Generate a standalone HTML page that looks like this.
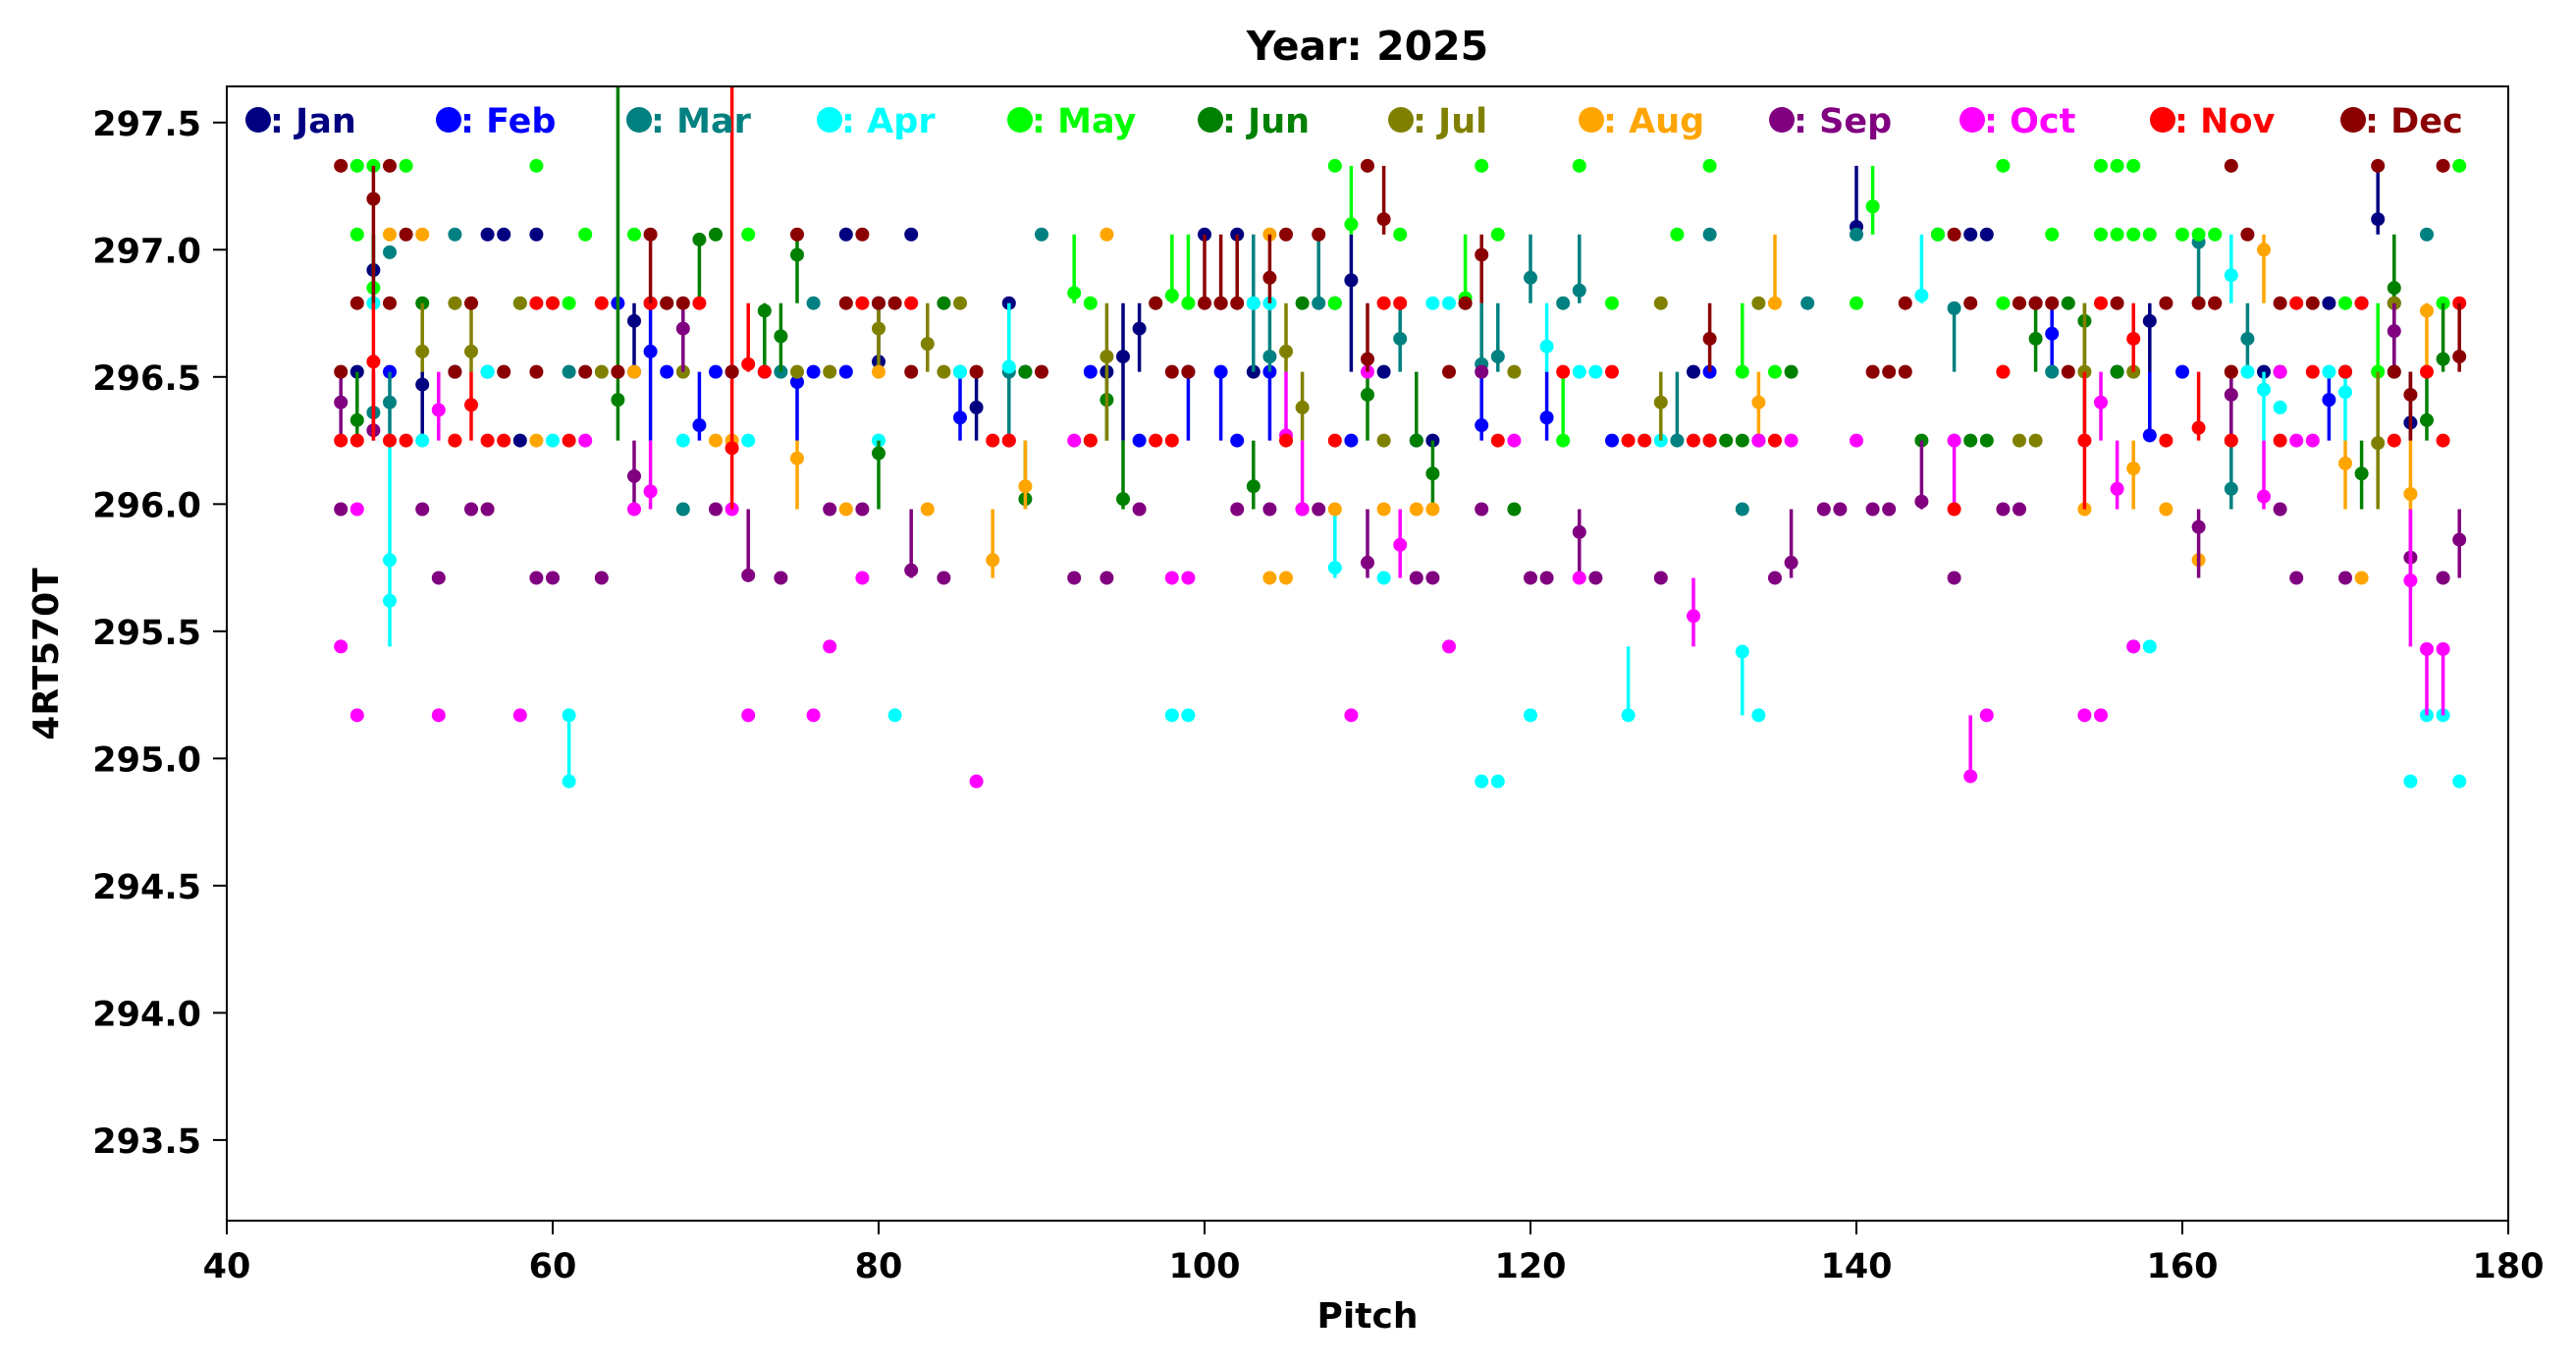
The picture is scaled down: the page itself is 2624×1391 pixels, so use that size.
<!DOCTYPE html>
<html><head><meta charset="utf-8"><style>
html,body{margin:0;padding:0;background:#fff;}
svg{display:block;font-family:"DejaVu Sans","Liberation Sans",sans-serif;font-weight:bold;}
</style></head><body>
<svg id="chart" width="2624" height="1391" viewBox="0 0 2624 1391" xmlns="http://www.w3.org/2000/svg">
<rect width="2624" height="1391" fill="#fff"/>
<text x="1393" y="61" font-size="41" text-anchor="middle">Year: 2025</text>
<text x="1393" y="1352" font-size="36" text-anchor="middle">Pitch</text>
<text x="0" y="0" font-size="36" text-anchor="middle" transform="translate(59,666) rotate(-90)">4RT570T</text>
<g id="marks"></g>
<g id="axes"></g>
<g id="legend"></g>
</svg>
<script>
const monthNames = ["Jan","Feb","Mar","Apr","May","Jun","Jul","Aug","Sep","Oct","Nov","Dec"];
const monthColors = ["#000080","#0000ff","#008080","#00ffff","#00ff00","#008000","#808000","#ffa500","#800080","#ff00ff","#ff0000","#8b0000"];
const xTicks = [40,60,80,100,120,140,160,180];
const yTicks = [293.5,294.0,294.5,295.0,295.5,296.0,296.5,297.0,297.5];
// [pitch, mean, low, high]
const janPts = [[48,296.52],[49,296.92,296.79,297.06],[52,296.47,296.25,296.52],[56,297.06],[57,297.06],[58,296.25],[59,297.06],[65,296.72,296.52,296.79],[66,296.79],[71,296.52],[78,297.06],[80,296.56,296.52,296.79],[82,297.06],[86,296.38,296.25,296.52],[88,296.79],[94,296.52],[95,296.58,296.25,296.79],[96,296.69,296.52,296.79],[100,297.06],[102,297.06],[103,296.52],[108,296.79],[109,296.88,296.52,297.06],[111,296.52],[114,296.25],[130,296.52],[140,297.09,297.06,297.33],[145,297.06],[147,297.06],[148,297.06],[151,296.79],[158,296.72,296.25,296.79],[165,296.52],[169,296.79],[170,296.52],[172,297.12,297.06,297.33],[173,296.79],[174,296.32,296.25,296.52]];
const febPts = [[50,296.52],[54,296.52],[56,296.52],[64,296.79],[65,296.52],[66,296.6,296.25,296.79],[67,296.52],[69,296.31,296.25,296.52],[70,296.52],[73,296.52],[75,296.48,296.25,296.52],[76,296.52],[78,296.52],[80,296.79],[85,296.34,296.25,296.52],[89,296.52],[93,296.52],[96,296.25],[99,296.52,296.25,296.52],[101,296.52,296.25,296.52],[102,296.25],[104,296.52,296.25,296.52],[109,296.25],[113,296.25],[117,296.31,296.25,296.52],[121,296.34,296.25,296.52],[125,296.25],[131,296.52],[134,296.25],[152,296.67,296.52,296.79],[156,296.52],[158,296.27,296.25,296.52],[160,296.52],[169,296.41,296.25,296.52],[171,296.79]];
const marPts = [[49,296.36],[50,296.4,296.25,296.52],[50,296.99],[54,297.06],[61,296.52],[68,295.98],[74,296.52],[76,296.79],[85,296.52],[88,296.52,296.25,296.79],[90,297.06],[103,296.79,296.52,297.06],[104,296.58,296.52,296.79],[107,296.79,296.79,297.06],[112,296.65,296.52,296.79],[116,296.79],[117,296.55,296.52,296.79],[118,296.58,296.52,296.79],[120,296.89,296.79,297.06],[122,296.79],[123,296.84,296.79,297.06],[129,296.25,296.25,296.52],[131,297.06],[133,295.98],[137,296.79],[140,297.06],[146,296.77,296.52,296.79],[152,296.52],[161,297.03,296.79,297.06],[163,296.06,295.98,296.52],[164,296.65,296.52,296.79],[166,296.52],[170,296.52],[173,296.52],[175,297.06]];
const aprPts = [[49,296.79],[50,295.62,295.44,296.25],[50,295.78],[52,296.25],[56,296.52],[60,296.25],[61,295.17,294.91,295.17],[61,294.91],[68,296.25],[72,296.25],[80,296.25],[81,295.17],[85,296.52],[88,296.54,296.52,296.79],[98,295.17],[99,295.17],[103,296.79],[104,296.79],[108,295.75,295.71,295.98],[111,295.71],[114,296.79],[115,296.79],[117,294.91],[118,294.91],[120,295.17],[121,296.62,296.52,296.79],[123,296.52],[124,296.52],[126,295.17,295.17,295.44],[127,296.25],[128,296.25],[133,295.42,295.17,295.44],[134,295.17],[144,296.82,296.79,297.06],[146,296.25],[157,295.44],[158,295.44],[163,296.9,296.79,297.06],[164,296.52],[165,296.45,296.25,296.52],[166,296.38],[169,296.52],[170,296.44,296.25,296.52],[174,294.91],[175,295.17],[176,295.17],[177,294.91]];
const mayPts = [[48,297.33],[49,297.33],[51,297.33],[59,297.33],[108,297.33],[117,297.33],[123,297.33],[131,297.33],[149,297.33],[155,297.33],[156,297.33],[157,297.33],[177,297.33],[49,296.85,296.79,297.06],[48,297.06],[61,296.79],[62,297.06],[58,296.79],[60,296.79],[65,297.06],[72,297.06],[92,296.83,296.79,297.06],[93,296.79],[97,296.79],[98,296.82,296.79,297.06],[99,296.79,296.79,297.06],[109,297.1,297.06,297.33],[112,297.06],[108,296.79],[116,296.81,296.79,297.06],[118,297.06],[125,296.79],[129,297.06],[133,296.52,296.52,296.79],[135,296.52],[140,296.79],[141,297.17,297.06,297.33],[145,297.06],[149,296.79],[152,297.06],[155,297.06],[156,297.06],[157,297.06],[158,297.06],[160,297.06],[161,297.06],[162,297.06],[170,296.79],[172,296.52,296.52,296.79],[176,296.79],[122,296.25,296.25,296.52]];
const junPts = [[48,296.33,296.25,296.52],[52,296.79],[64,296.41,296.25,297.65],[67,296.79],[69,297.04,296.79,297.06],[70,297.06],[73,296.76,296.52,296.79],[74,296.66,296.52,296.79],[75,296.98,296.79,297.06],[80,296.2,295.98,296.25],[84,296.79],[89,296.02,295.98,296.25],[89,296.52],[94,296.41,296.25,296.52],[95,296.02,295.98,296.25],[101,296.79],[103,296.07,295.98,296.25],[106,296.79],[110,296.43,296.25,296.52],[113,296.25,296.25,296.52],[114,296.12,295.98,296.25],[119,295.98],[131,296.25],[132,296.25],[133,296.25],[136,296.52],[144,296.25],[147,296.25],[148,296.25],[151,296.65,296.52,296.79],[153,296.79],[154,296.72,296.52,296.79],[156,296.52],[166,296.52],[171,296.12,295.98,296.25],[173,296.85,296.52,297.06],[175,296.33,296.25,296.52],[176,296.57,296.52,296.79]];
const julPts = [[52,296.6,296.52,296.79],[54,296.79],[55,296.6,296.52,296.79],[58,296.79],[63,296.52],[68,296.52],[75,296.52],[77,296.52],[80,296.69,296.52,296.79],[83,296.63,296.52,296.79],[84,296.52],[85,296.79],[93,296.25],[94,296.58,296.25,296.79],[105,296.6,296.52,296.79],[106,296.38,296.25,296.52],[111,296.25],[119,296.52],[128,296.4,296.25,296.52],[128,296.79],[134,296.79],[149,296.52],[150,296.25],[151,296.25],[154,296.52,296.25,296.79],[157,296.52],[163,296.25],[166,296.52],[172,296.24,295.98,296.52],[173,296.79]];
const augPts = [[50,297.06],[52,297.06],[54,296.25],[56,295.98],[59,296.25],[65,296.52],[70,296.25],[71,296.25],[75,296.18,295.98,296.25],[78,295.98],[80,296.52],[83,295.98],[87,295.78,295.71,295.98],[89,296.07,295.98,296.25],[94,297.06],[104,297.06],[104,295.71],[105,295.71],[108,295.98],[111,295.98],[113,295.98],[114,295.98],[134,296.4,296.25,296.52],[135,296.79,296.79,297.06],[154,295.98],[157,296.14,295.98,296.25],[159,295.98],[161,295.78],[163,296.52],[165,297.0,296.79,297.06],[170,296.16,295.98,296.25],[171,295.71],[174,296.04,295.98,296.25],[175,296.76,296.52,296.79]];
const sepPts = [[47,296.4,296.25,296.52],[47,295.98],[49,296.29,296.25,296.52],[52,295.98],[53,295.71],[55,295.98],[56,295.98],[59,295.71],[60,295.71],[63,295.71],[65,296.11,295.98,296.25],[68,296.69,296.52,296.79],[70,295.98],[72,295.72,295.71,295.98],[74,295.71],[77,295.98],[79,295.98],[82,295.74,295.71,295.98],[84,295.71],[92,295.71],[94,295.71],[96,295.98],[102,295.98],[104,295.98],[106,295.98],[107,295.98],[110,295.77,295.71,295.98],[113,295.71],[114,295.71],[117,295.98],[117,296.52],[120,295.71],[121,295.71],[123,295.89,295.71,295.98],[124,295.71],[128,295.71],[135,295.71],[136,295.77,295.71,295.98],[138,295.98],[139,295.98],[141,295.98],[142,295.98],[144,296.01,295.98,296.25],[146,295.71],[149,295.98],[150,295.98],[161,295.91,295.71,295.98],[163,296.43,296.25,296.52],[166,295.98],[167,295.71],[170,295.71],[173,296.68,296.52,296.79],[174,295.79,295.71,295.98],[176,295.71],[177,295.86,295.71,295.98]];
const octPts = [[47,295.44],[48,295.17],[48,295.98],[53,296.37,296.25,296.52],[53,295.17],[58,295.17],[62,296.25],[65,295.98],[66,296.05,295.98,296.25],[71,295.98],[72,295.17],[76,295.17],[77,295.44],[79,295.71],[86,294.91],[88,296.25],[92,296.25],[98,295.71],[99,295.71],[105,296.27,296.25,296.52],[106,295.98,295.98,296.25],[109,295.17],[110,296.52],[112,295.84,295.71,295.98],[115,295.44],[119,296.25],[123,295.71],[130,295.56,295.44,295.71],[134,296.25],[136,296.25],[140,296.25],[146,296.25,295.98,296.25],[147,294.93,294.91,295.17],[148,295.17],[154,295.17],[155,295.17],[155,296.4,296.25,296.52],[156,296.06,295.98,296.25],[157,295.44],[165,296.03,295.98,296.25],[166,296.52],[167,296.25],[168,296.25],[174,295.7,295.44,295.98],[175,295.43,295.17,295.44],[176,295.43,295.17,295.44]];
const novPts = [[47,296.25],[48,296.25],[49,296.56,296.25,296.79],[50,296.25],[51,296.25],[54,296.25],[55,296.39,296.25,296.52],[56,296.25],[57,296.25],[59,296.79],[60,296.79],[61,296.25],[63,296.79],[64,296.52],[66,296.79],[69,296.79],[71,296.22,295.98,297.65],[72,296.55,296.52,296.79],[73,296.52],[79,296.79],[82,296.79],[87,296.25],[88,296.25],[93,296.25],[97,296.25],[98,296.25],[101,296.79],[105,296.25],[108,296.25],[111,296.79],[112,296.79],[118,296.25],[122,296.52],[125,296.52],[126,296.25],[127,296.25],[130,296.25],[131,296.25],[135,296.25],[146,295.98],[149,296.52],[150,296.79],[154,296.25,295.98,296.52],[155,296.79],[157,296.65,296.52,296.79],[159,296.25],[161,296.3,296.25,296.52],[162,296.79],[163,296.25],[166,296.25],[167,296.79],[168,296.52],[170,296.52],[171,296.79],[173,296.25],[175,296.52],[176,296.25],[177,296.79]];
const decPts = [[47,297.33],[47,296.52],[48,296.79],[49,297.2,296.79,297.33],[50,296.79],[50,297.33],[51,297.06],[54,296.52],[55,296.79],[57,296.52],[59,296.52],[62,296.52],[64,296.52],[66,297.06,296.79,297.06],[67,296.79],[68,296.79],[71,296.52],[75,297.06],[78,296.79],[79,297.06],[80,296.79],[81,296.79],[82,296.52],[86,296.52],[90,296.52],[97,296.79],[98,296.52],[99,296.52],[100,296.79,296.79,297.06],[101,296.79,296.79,297.06],[102,296.79,296.79,297.06],[104,296.89,296.79,297.06],[105,297.06],[107,297.06],[110,297.33],[111,297.12,297.06,297.33],[110,296.57,296.52,296.79],[115,296.52],[116,296.79],[117,296.98,296.79,297.06],[131,296.65,296.52,296.79],[141,296.52],[142,296.52],[143,296.79],[143,296.52],[146,297.06],[147,296.79],[150,296.79],[151,296.79],[152,296.79],[153,296.52],[156,296.79],[159,296.79],[161,296.79],[162,296.79],[163,297.33],[163,296.52],[164,297.06],[166,296.79],[168,296.79],[172,297.33],[173,296.52],[174,296.43,296.25,296.52],[176,297.33],[177,296.58,296.52,296.79]];
const allMonths = [janPts,febPts,marPts,aprPts,mayPts,junPts,julPts,augPts,sepPts,octPts,novPts,decPts];

const NS = "http://www.w3.org/2000/svg";
const PL = 231, PR = 2555, PT = 88, PB = 1243;
const X0 = 40, X1 = 180, Y0 = 293.183, Y1 = 297.642;
function xs(v){ return PL + (v - X0) / (X1 - X0) * (PR - PL); }
function ys(v){ return PB - (v - Y0) / (Y1 - Y0) * (PB - PT); }
function mk(tag, attrs){ const e = document.createElementNS(NS, tag); for (const k in attrs) e.setAttribute(k, attrs[k]); return e; }

const clipDef = mk("clipPath", {id: "pc"});
clipDef.appendChild(mk("rect", {x: PL, y: PT, width: PR - PL, height: PB - PT}));
document.getElementById("chart").appendChild(clipDef);
const marks = document.getElementById("marks");
marks.setAttribute("clip-path", "url(#pc)");
allMonths.forEach((pts, m) => {
  const g = mk("g", {});
  
  
  pts.forEach(p => {
    const cx = xs(p[0]);
    if (p.length > 2 && p[3] !== p[2]) {
      const l = mk("line", {x1: cx, x2: cx, y1: ys(p[2]), y2: ys(p[3]), stroke: monthColors[m], "stroke-width": 3.5});
      
      
      g.appendChild(l);
    }
    const c = mk("circle", {cx: cx, cy: ys(p[1]), r: 7, fill: monthColors[m]});
    
    
    g.appendChild(c);
  });
  marks.appendChild(g);
});

const axes = document.getElementById("axes");
const frame = mk("rect", {x: PL, y: PT, width: PR - PL, height: PB - PT, fill: "none", stroke: "#000", "stroke-width": 2});


axes.appendChild(frame);
xTicks.forEach(t => {
  const x = xs(t);
  const tk = mk("line", {x1: x, x2: x, y1: PB, y2: PB + 14, stroke: "#000", "stroke-width": 2});
  
  
  axes.appendChild(tk);
  const tx = mk("text", {x: x, y: PB + 58, "font-size": 35, "text-anchor": "middle"});
  
  
  tx.textContent = String(t);
  axes.appendChild(tx);
});
yTicks.forEach(t => {
  const y = ys(t);
  const tk = mk("line", {x1: PL - 14, x2: PL, y1: y, y2: y, stroke: "#000", "stroke-width": 2});
  
  
  axes.appendChild(tk);
  const tx = mk("text", {x: PL - 26, y: y + 13, "font-size": 35, "text-anchor": "end"});
  
  
  tx.textContent = t.toFixed(1);
  axes.appendChild(tx);
});

const legend = document.getElementById("legend");
monthNames.forEach((n, i) => {
  const lx = 263 + i * 194;
  const g = mk("g", {});
  
  
  g.appendChild(mk("circle", {cx: lx, cy: 122, r: 13, fill: monthColors[i]}));
  const t = mk("text", {x: lx + 12, y: 135, "font-size": 35, fill: monthColors[i]});
  t.textContent = ": " + n;
  g.appendChild(t);
  legend.appendChild(g);
});
</script>
</body></html>
